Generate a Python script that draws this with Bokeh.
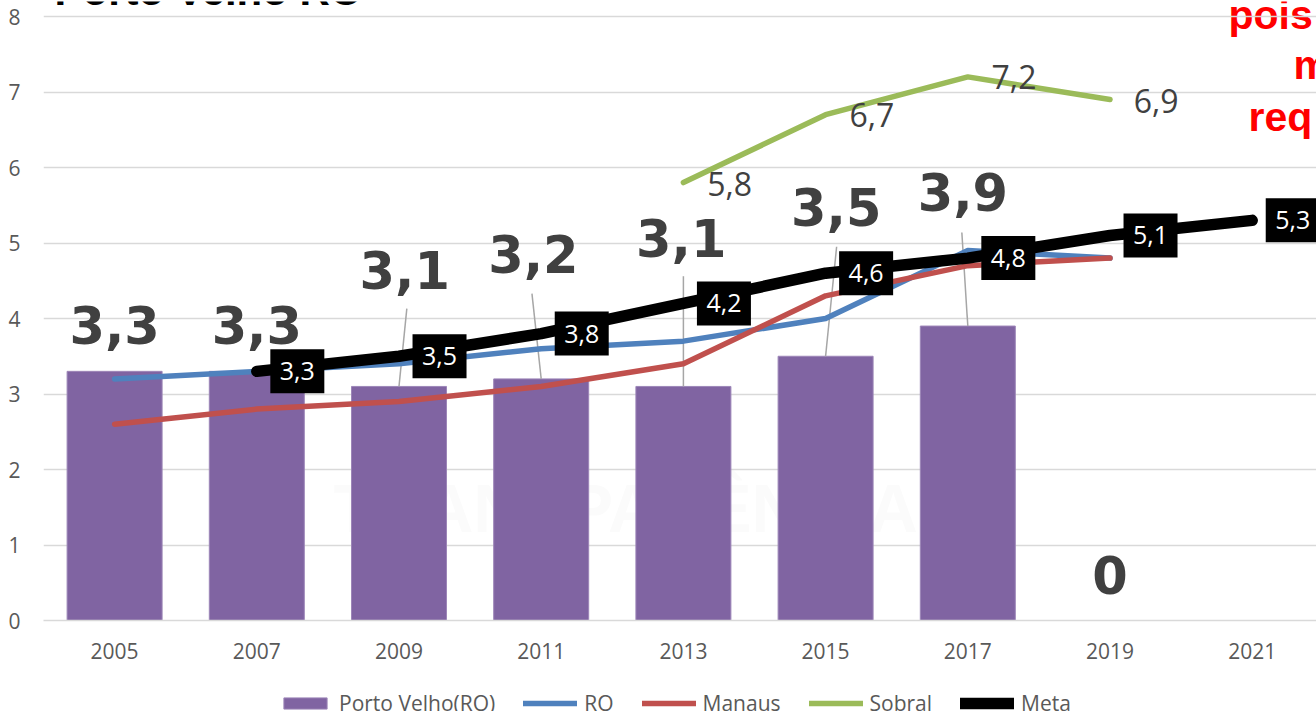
from bokeh.plotting import figure
from bokeh.embed import file_html
from bokeh.layouts import column
from bokeh.resources import INLINE
from bokeh.models import Legend, LegendItem, Range1d, FixedTicker
from bokeh.core.properties import value

years = [2005, 2007, 2009, 2011, 2013, 2015, 2017, 2019, 2021]
bar_years = [2005, 2007, 2009, 2011, 2013, 2015, 2017, 2019]
porto_velho = [3.3, 3.3, 3.1, 3.2, 3.1, 3.5, 3.9, 0]
ro_years = [2005, 2007, 2009, 2011, 2013, 2015, 2017, 2019]
ro = [3.2, 3.3, 3.4, 3.6, 3.7, 4.0, 4.9, 4.8]
manaus_years = [2005, 2007, 2009, 2011, 2013, 2015, 2017, 2019]
manaus = [2.6, 2.8, 2.9, 3.1, 3.4, 4.3, 4.7, 4.8]
sobral_years = [2013, 2015, 2017, 2019]
sobral = [5.8, 6.7, 7.2, 6.9]
meta_years = [2007, 2009, 2011, 2013, 2015, 2017, 2019, 2021]
meta = [3.3, 3.5, 3.8, 4.2, 4.6, 4.8, 5.1, 5.3]

# label placement (data-unit offsets of the chart's data labels)
bar_label_dx = [0, 0, 0.08, -0.11, -0.03, 0.15, -0.07, 0]
bar_label_y = [3.92, 3.92, 4.64, 4.85, 5.07, 5.48, 5.67, 0.60]
leader_dx = [None, None, 0.11, -0.13, 0, 0.155, -0.084, None]
leader_y = [None, None, 4.13, 4.33, 4.56, 4.95, 5.14, None]
sobral_label_dx = 0.65
sobral_label_y = [5.78, 6.7, 7.2, 6.88]
meta_label_dx = 0.57

FONT = "Open Sans"
AXIS_COLOR = "#595959"
GRID = "#d9d9d9"
PX_X = 71.1
PX_Y = 75.5
LEFT = 43
BLUE, RED, GREEN, PURPLE = "#4F81BD", "#C0504D", "#9BBB59", "#8064A2"
BAR_EDGE = "#9d86b8"

p = figure(width=1316, height=665, frame_width=1316 - LEFT, frame_height=619,
           output_backend="svg", toolbar_location=None,
           x_range=Range1d(2004, 2004 + (1316 - LEFT) / PX_X), y_range=Range1d(0, 8 + 15 / PX_Y),
           min_border_left=LEFT, min_border_right=0, min_border_top=1, min_border_bottom=0,
           background_fill_color="white", border_fill_color="white", outline_line_color=None)

p.xgrid.visible = False
p.ygrid.grid_line_color = GRID
p.ygrid.grid_line_width = 1.5
p.xaxis.ticker = FixedTicker(ticks=years)
p.yaxis.ticker = FixedTicker(ticks=list(range(9)))
for ax in (p.xaxis[0], p.yaxis[0]):
    ax.major_tick_line_color = None
    ax.minor_tick_line_color = None
    ax.major_label_text_font = FONT
    ax.major_label_text_font_size = "21px"
    ax.major_label_text_color = AXIS_COLOR
p.xaxis[0].axis_line_color = GRID
p.xaxis[0].axis_line_width = 1.5
p.xaxis[0].major_label_standoff = 16
p.yaxis[0].axis_line_color = None
p.yaxis[0].major_label_standoff = 17


def xd(px):
    return 2004 + (px - LEFT) / PX_X


def yd(py):
    return (620 - py) / PX_Y


# faint watermark
p.text(x=[xd(333)], y=[yd(507)], text=["TRANSPARÊNCIA"], text_font=value("Liberation Sans"),
       text_font_style="bold", text_font_size="68px", text_color="#fbfbfb",
       text_align="left", text_baseline="middle", level="underlay")

p.vbar(x=bar_years, top=porto_velho, width=95 / PX_X, fill_color=PURPLE,
       line_color=BAR_EDGE, line_width=1)

# leader lines
seg = [(x, v, x + d, t) for x, v, d, t in zip(bar_years, porto_velho, leader_dx, leader_y) if t is not None]
p.segment(x0=[s[0] for s in seg], y0=[s[1] for s in seg], x1=[s[2] for s in seg], y1=[s[3] for s in seg],
          line_color="#a6a6a6", line_width=1.5)

p.line(ro_years, ro, line_color=BLUE, line_width=5.5, line_cap="round", line_join="round")
p.line(manaus_years, manaus, line_color=RED, line_width=5.5, line_cap="round", line_join="round")
p.line(sobral_years, sobral, line_color=GREEN, line_width=5.5, line_cap="round", line_join="round")
p.line(meta_years, meta, line_color="black", line_width=11.5, line_cap="round", line_join="round")

# big bar labels
p.text(x=[x + d for x, d in zip(bar_years, bar_label_dx)], y=bar_label_y,
       text=[f"{v:g}".replace(".", ",") for v in porto_velho],
       text_font=value("DejaVu Sans"), text_font_style="bold", text_font_size="51px",
       text_color="#404040", text_align="center", text_baseline="middle")

# Sobral labels
p.text(x=[x + sobral_label_dx for x in sobral_years], y=sobral_label_y,
       text=[f"{v:g}".replace(".", ",") for v in sobral],
       text_font=value(FONT), text_font_size="32px", text_color="#404040",
       text_align="center", text_baseline="middle")

# Meta labels
mx = [x + meta_label_dx for x in meta_years]
p.rect(x=mx, y=meta, width=54, height=44, width_units="screen", height_units="screen",
       fill_color="black", line_color=None)
p.text(x=mx, y=meta, text=[f"{v:g}".replace(".", ",") for v in meta],
       text_font=value(FONT), text_font_size="25px", text_color="white",
       text_align="center", text_baseline="middle")

# clipped headings at the image edges
p.text(x=[xd(54)], y=[yd(-10)], text=["Porto Velho RO"], text_font=value("Liberation Sans"),
       text_font_style="bold", text_font_size="42px", text_color="black", text_baseline="alphabetic",
       level="underlay")
heads = ["pois", "m", "req"]
p.text(x=[xd(1228), xd(1293), xd(1248)], y=[yd(14), yd(64), yd(116)], text=heads,
       text_font=value("Liberation Sans"), text_font_style="bold", text_font_size="41px",
       text_color="#ff0000", text_baseline="alphabetic", level="underlay")

# legend strip below the chart (its own series sit outside its visible range)
q = figure(width=1316, height=50, output_backend="svg", toolbar_location=None,
           x_range=Range1d(0, 1), y_range=Range1d(0, 1), x_axis_type=None, y_axis_type=None,
           min_border=0, outline_line_color=None, background_fill_color="white",
           border_fill_color="white")
q.grid.visible = False
l_bar = q.vbar(x=bar_years, top=porto_velho, width=1, fill_color=PURPLE, line_color=BAR_EDGE)
l_ro = q.line(ro_years, ro, line_color=BLUE, line_width=5.5, line_cap="round")
l_man = q.line(manaus_years, manaus, line_color=RED, line_width=5.5, line_cap="round")
l_sob = q.line(sobral_years, sobral, line_color=GREEN, line_width=5.5, line_cap="round")
l_meta = q.line(meta_years, meta, line_color="black", line_width=11.5, line_cap="round")

legend = Legend(items=[LegendItem(label="Porto Velho(RO)", renderers=[l_bar]),
                       LegendItem(label="RO", renderers=[l_ro]),
                       LegendItem(label="Manaus", renderers=[l_man]),
                       LegendItem(label="Sobral", renderers=[l_sob]),
                       LegendItem(label="Meta", renderers=[l_meta])],
                orientation="horizontal", location=(235, -6), border_line_color=None,
                background_fill_alpha=0, glyph_width=54, glyph_height=14, label_standoff=7,
                spacing=28, padding=0, margin=0, label_text_font=FONT,
                label_text_font_size="21px", label_text_color=AXIS_COLOR)
q.add_layout(legend, "center")

page = column(p, q, spacing=0)
open("out.html", "w").write(file_html(page, INLINE))
